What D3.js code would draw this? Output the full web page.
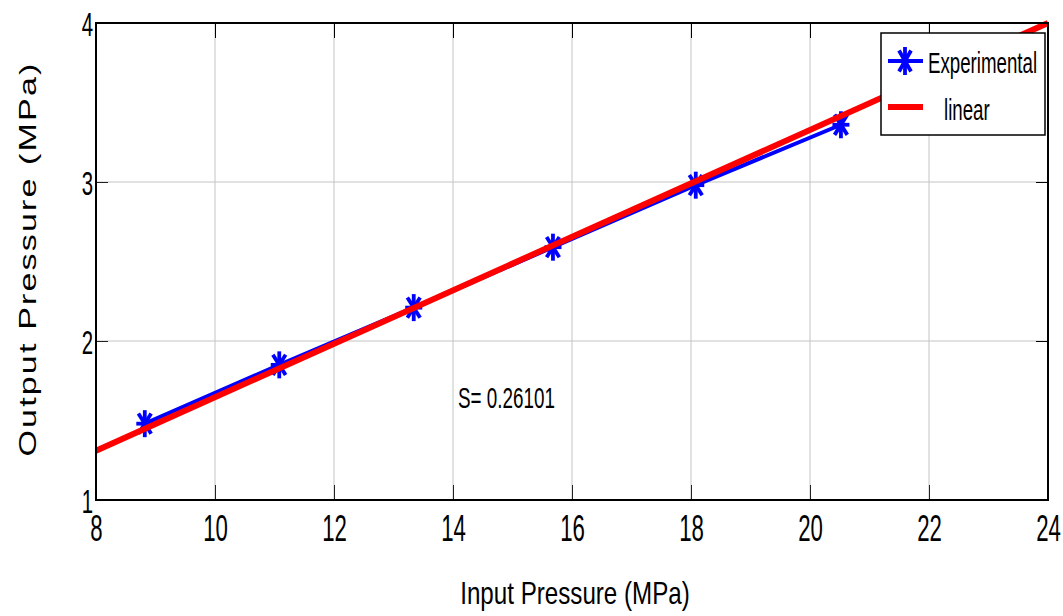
<!DOCTYPE html>
<html>
<head>
<meta charset="utf-8">
<script src="https://cdn.jsdelivr.net/npm/d3@7"></script>
<style>
  body { margin: 0; background: #fff; }
  text { font-family: "Liberation Sans", Arial, sans-serif; }
</style>
</head>
<body>
<svg id="chart" width="1063" height="616"></svg>
<script>
// data
const inputPressure = [8.82, 11.08, 13.34, 15.68, 18.08, 20.52];
const outputPressure = [1.48, 1.85, 2.21, 2.59, 2.98, 3.36];
const fitX = [8, 24];
const fitY = [1.31, 4.0];
const xTicks = [8, 10, 12, 14, 16, 18, 20, 22, 24];
const yTicks = [1, 2, 3, 4];

const svg = d3.select('#chart');
const m = { left: 96, right: 1048, top: 23, bottom: 500 };

const x = d3.scaleLinear().domain([8, 24]).range([m.left, m.right]);
const y = d3.scaleLinear().domain([1, 4]).range([m.bottom, m.top]);

// the original picture is stretched vertically, so text looks narrow: fake it with a squeeze
function squeeze(sel, sx) {
    sel.each(function () {
        const t = d3.select(this);
        const tx = +t.attr('x') || 0;
        t.attr('x', tx / sx).attr('transform', `scale(${sx},1)`);
    });
}
function narrowText(parent, px, py, str, size, sx, anchor) {
    return parent.append('text')
        .attr('transform', `translate(${px},${py}) scale(${sx},1)`)
        .attr('text-anchor', anchor || 'start')
        .attr('font-size', size)
        .text(str);
}

// grid
svg.append('g').selectAll('line')
    .data(xTicks.slice(1, -1))
    .join('line')
    .attr('x1', d => x(d)).attr('x2', d => x(d))
    .attr('y1', m.top).attr('y2', m.bottom)
    .attr('stroke', '#c4c4c4').attr('stroke-width', 1);
svg.append('g').selectAll('line')
    .data(yTicks.slice(1, -1))
    .join('line')
    .attr('x1', m.left).attr('x2', m.right)
    .attr('y1', d => y(d)).attr('y2', d => y(d))
    .attr('stroke', '#c4c4c4').attr('stroke-width', 1);

// axes, ticks pointing inward on all four sides
svg.append('g')
    .attr('transform', `translate(0,${m.bottom})`)
    .call(d3.axisBottom(x).tickValues(xTicks).tickSize(-15).tickPadding(15))
    .call(g => g.select('.domain').remove())
    .call(g => g.selectAll('line').attr('stroke', '#222'))
    .call(g => g.selectAll('text').attr('font-size', 37).attr('fill', '#000').call(squeeze, 0.6));
svg.append('g')
    .attr('transform', `translate(0,${m.top})`)
    .call(d3.axisTop(x).tickValues(xTicks).tickSize(-15).tickFormat(''))
    .call(g => g.select('.domain').remove());
svg.append('g')
    .attr('transform', `translate(${m.left},0)`)
    .call(d3.axisLeft(y).tickValues(yTicks).tickSize(-12).tickPadding(3).tickFormat(d3.format('d')))
    .call(g => g.select('.domain').remove())
    .call(g => g.selectAll('line').attr('stroke', '#222'))
    .call(g => g.selectAll('text').attr('font-size', 34).attr('fill', '#000').attr('dy', '0.36em').call(squeeze, 0.6));
svg.append('g')
    .attr('transform', `translate(${m.right},0)`)
    .call(d3.axisRight(y).tickValues(yTicks).tickSize(-12).tickFormat(''))
    .call(g => g.select('.domain').remove());

const line = d3.line().x(d => x(d[0])).y(d => y(d[1]));

// asterisk marker (plus + cross), taller than wide like the original
function star(g, cx, cy, rx, ry) {
    const arms = [[0, ry], [rx, 0], [rx * 0.75, ry * 0.75], [rx * 0.75, -ry * 0.75]];
    arms.forEach(([dx, dy]) => {
        g.append('line')
            .attr('x1', cx - dx).attr('y1', cy - dy)
            .attr('x2', cx + dx).attr('y2', cy + dy)
            .attr('stroke', '#0000ff').attr('stroke-width', 3.8);
    });
}

// experimental series
svg.append('path')
    .datum(d3.zip(inputPressure, outputPressure))
    .attr('d', line)
    .attr('fill', 'none').attr('stroke', '#0000ff').attr('stroke-width', 4);
const marks = svg.append('g');
inputPressure.forEach((v, i) => star(marks, x(v), y(outputPressure[i]), 8.5, 13.5));

// linear fit
svg.append('path')
    .datum(d3.zip(fitX, fitY))
    .attr('d', line)
    .attr('fill', 'none').attr('stroke', '#ff0000').attr('stroke-width', 6);

// frame
svg.append('rect')
    .attr('x', m.left).attr('y', m.top)
    .attr('width', m.right - m.left).attr('height', m.bottom - m.top)
    .attr('fill', 'none').attr('stroke', '#000').attr('stroke-width', 2);

narrowText(svg, 458, 408, 'S= 0.26101', 29, 0.65);

// legend
const lg = svg.append('g').attr('transform', 'translate(881,33)');
lg.append('rect').attr('width', 164).attr('height', 102)
    .attr('fill', '#fff').attr('stroke', '#000').attr('stroke-width', 1.5);
lg.append('line').attr('x1', 7).attr('x2', 42).attr('y1', 28).attr('y2', 28)
    .attr('stroke', '#0000ff').attr('stroke-width', 4);
star(lg, 24, 28, 8, 14);
narrowText(lg, 47, 40, 'Experimental', 29, 0.645);
lg.append('line').attr('x1', 7).attr('x2', 42).attr('y1', 74).attr('y2', 74)
    .attr('stroke', '#ff0000').attr('stroke-width', 6);
narrowText(lg, 63, 87, 'linear', 29, 0.645);

// axis titles
narrowText(svg, 575, 604, 'Input Pressure (MPa)', 32, 0.755, 'middle');
svg.append('text')
    .attr('transform', `translate(36,259) rotate(-90) scale(1.42,1)`)
    .attr('text-anchor', 'middle').attr('font-size', 24)
    .style('letter-spacing', '1.5px')
    .text('Output Pressure (MPa)');
</script>
</body>
</html>
